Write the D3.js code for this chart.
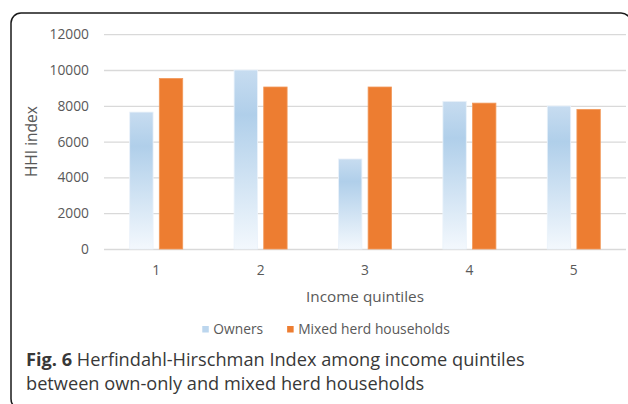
<!DOCTYPE html>
<html><head><meta charset="utf-8">
<script src="https://cdn.jsdelivr.net/npm/d3@7"></script>
<style>body{margin:0;background:#fff} svg{display:block}</style>
</head><body>
<svg id="chart" width="628" height="404"></svg>
<script>
const categories = ["1", "2", "3", "4", "5"];
const seriesNames = ["Owners", "Mixed herd households"];
const ownersValues = [7650, 10000, 5030, 8250, 7990];
const mixedValues = [9530, 9050, 9050, 8150, 7800];
const yTickValues = [0, 2000, 4000, 6000, 8000, 10000, 12000];
const yTitle = "HHI index";
const xTitle = "Income quintiles";
const captionBold = "Fig. 6";
const captionLine1 = " Herfindahl-Hirschman Index among income quintiles";
const captionLine2 = "between own-only and mixed herd households";

const seriesValues = { "Owners": ownersValues, "Mixed herd households": mixedValues };
const font = "'Open Sans', sans-serif";
const textColor = "#595959";

const svg = d3.select("#chart");
const defs = svg.append("defs");
const grad = defs.append("linearGradient").attr("id", "ownersGrad")
  .attr("x1", 0).attr("y1", 0).attr("x2", 0).attr("y2", 1);
grad.append("stop").attr("offset", "0%").attr("stop-color", "#c7dcf0");
grad.append("stop").attr("offset", "25%").attr("stop-color", "#b0cfea");
grad.append("stop").attr("offset", "100%").attr("stop-color", "#f3f8fd");

// frame
svg.append("rect").attr("x", 11).attr("y", 13).attr("width", 620).attr("height", 396)
  .attr("rx", 10).attr("fill", "none").attr("stroke", "#1a1a1a").attr("stroke-width", 1.5);

const plotLeft = 104, plotRight = 626, plotTop = 34.2, plotBottom = 249;

const x0 = d3.scaleBand().domain(categories).range([plotLeft, plotRight])
  .paddingInner(0.492).paddingOuter(0.246);
const x1 = d3.scaleBand().domain(seriesNames).range([0, x0.bandwidth()]).paddingInner(0.21);
const y = d3.scaleLinear().domain([0, 12000]).range([plotBottom, plotTop]);

// y axis with gridlines
const yAxis = svg.append("g").attr("transform", `translate(${plotLeft},0)`)
  .call(d3.axisLeft(y).tickValues(yTickValues).tickSize(-(plotRight - plotLeft)).tickPadding(15).tickFormat(d3.format("d")));
yAxis.select(".domain").remove();
yAxis.selectAll(".tick line").attr("stroke", "#d9d9d9").attr("stroke-width", 1.3);
yAxis.selectAll(".tick text").attr("font-family", font).attr("font-size", 13.8).attr("fill", textColor);

// bars
const groups = svg.append("g").selectAll("g").data(categories).join("g")
  .attr("transform", d => `translate(${x0(d)},0)`);
groups.selectAll("rect")
  .data((c, i) => seriesNames.map(s => ({ s, v: seriesValues[s][i] })))
  .join("rect")
  .attr("x", d => x1(d.s))
  .attr("width", x1.bandwidth())
  .attr("y", d => y(d.v))
  .attr("height", d => y(0) - y(d.v))
  .attr("fill", d => d.s === "Owners" ? "url(#ownersGrad)" : "#ed7d31")
  .attr("stroke", d => d.s === "Owners" ? "#eaf2fa" : "#f29a5c")
  .attr("stroke-width", 0.8);

// x axis
const xAxis = svg.append("g").attr("transform", `translate(0,${plotBottom})`)
  .call(d3.axisBottom(x0).tickSize(0).tickPadding(16));
xAxis.select(".domain").remove();
xAxis.selectAll(".tick text").attr("font-family", font).attr("font-size", 13.8).attr("fill", textColor);

// axis titles
svg.append("text").attr("x", (plotLeft + plotRight) / 2).attr("y", 302)
  .attr("text-anchor", "middle").attr("font-family", font).attr("font-size", 15.3)
  .attr("fill", textColor).text(xTitle);
svg.append("text").attr("transform", `translate(37,${(plotTop + plotBottom) / 2}) rotate(-90)`)
  .attr("text-anchor", "middle").attr("font-family", font).attr("font-size", 15.5)
  .attr("fill", textColor).text(yTitle);

// legend
const legend = svg.append("g");
let lx = 0;
seriesNames.forEach((s) => {
  const g = legend.append("g").attr("transform", `translate(${lx},0)`);
  g.append("rect").attr("x", 0).attr("y", -3).attr("width", 6.5).attr("height", 6.5)
    .attr("fill", s === "Owners" ? "#bcd6ee" : "#ed7d31");
  const t = g.append("text").attr("x", 11).attr("y", 0).attr("dy", "0.35em")
    .attr("font-family", font).attr("font-size", 13.8).attr("fill", textColor).text(s);
  lx += 11 + t.node().getComputedTextLength() + 24;
});
const legendW = lx - 24;
legend.attr("transform", `translate(${326 - legendW / 2},329)`);

// caption
const cap = svg.append("g").attr("font-family", font).attr("font-size", 18.2).attr("fill", "#383838");
const l1 = cap.append("text").attr("x", 26).attr("y", 366);
l1.append("tspan").attr("font-weight", "bold").text(captionBold);
l1.append("tspan").text(captionLine1);
cap.append("text").attr("x", 26).attr("y", 390).text(captionLine2);
</script>
</body></html>
